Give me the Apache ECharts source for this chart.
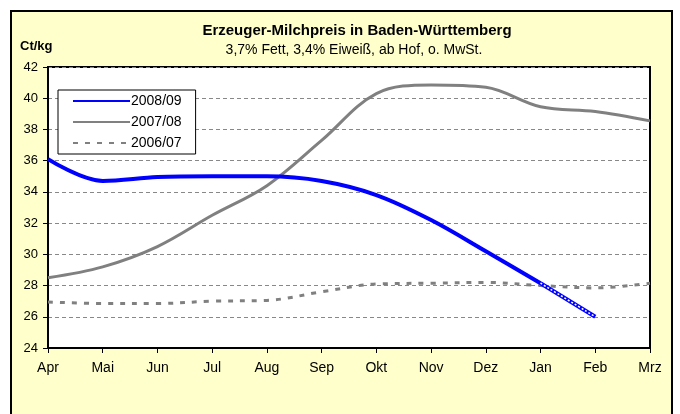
<!DOCTYPE html>
<html>
<head>
<meta charset="utf-8">
<script src="https://cdn.jsdelivr.net/npm/echarts@6/dist/echarts.min.js"></script>
<style>
html,body{margin:0;padding:0;background:#fff;}
#c{width:680px;height:414px;}
</style>
</head>
<body>
<div id="c"></div>
<script>
const months = ["Apr","Mai","Jun","Jul","Aug","Sep","Okt","Nov","Dez","Jan","Feb","Mrz"];
const yTicks = [24,26,28,30,32,34,36,38,40,42];
const s2008 = [36.1, 34.7, 34.95, 35.0, 35.0, 34.7, 33.8, 32.2, 30.2, 28.15, null, null];
const s2008proj = [null, null, null, null, null, null, null, null, null, 28.15, 26.0, null];
const s2007 = [28.5, 29.2, 30.5, 32.5, 34.4, 37.3, 40.3, 40.85, 40.7, 39.45, 39.15, 38.55];
const s2006 = [26.95, 26.85, 26.85, 27.0, 27.05, 27.6, 28.1, 28.15, 28.2, 28.0, 27.85, 28.15];
const names = ["2008/09", "2007/08", "2006/07"];

const chart = echarts.init(document.getElementById('c'), null, {renderer: 'canvas'});
const font = 'Liberation Sans, Arial, sans-serif';
chart.setOption({
  animation: false,
  backgroundColor: '#ffffff',
  textStyle: {fontFamily: font},
  graphic: [
    {type: 'rect', z: -10, shape: {x: 11, y: 11, width: 661, height: 420},
     style: {fill: '#FFFFCC', stroke: '#000', lineWidth: 2}},
    {type: 'text', x: 357, y: 31, z: 10,
     style: {text: 'Erzeuger-Milchpreis in Baden-Württemberg', font: 'bold 15px ' + font, fill: '#000', textAlign: 'center', textVerticalAlign: 'middle'}},
    {type: 'text', x: 354, y: 50, z: 10,
     style: {text: '3,7% Fett, 3,4% Eiweiß, ab Hof, o. MwSt.', font: '14px ' + font, fill: '#000', textAlign: 'center', textVerticalAlign: 'middle'}},
    {type: 'text', x: 20, y: 46, z: 10,
     style: {text: 'Ct/kg', font: 'bold 13px ' + font, fill: '#000', textVerticalAlign: 'middle'}}
  ],
  grid: {left: 48, right: 30, top: 67, bottom: 66, show: true, backgroundColor: '#fff', borderColor: '#000', borderWidth: 2},
  legend: {
    data: names,
    orient: 'vertical',
    left: 58, top: 90,
    backgroundColor: '#fff',
    borderColor: '#000', borderWidth: 1, borderRadius: 0,
    padding: [4, 14, 4, 14],
    itemWidth: 57, itemHeight: 14, itemGap: 7,
    itemStyle: {opacity: 0},
    textStyle: {fontSize: 14, color: '#000', fontFamily: font, padding: [0,0,0,-4]}
  },
  xAxis: {
    type: 'category', data: months, boundaryGap: false,
    axisLine: {lineStyle: {color: '#000', width: 2}},
    axisTick: {show: true, length: 5, lineStyle: {color: '#000', width: 1}, alignWithLabel: true},
    axisLabel: {color: '#000', fontSize: 14, margin: 13, fontFamily: font},
    splitLine: {show: false}
  },
  yAxis: {
    type: 'value', min: yTicks[0], max: yTicks[yTicks.length-1], interval: 2,
    axisLine: {show: true, lineStyle: {color: '#000', width: 2}},
    axisTick: {show: true, length: 5, lineStyle: {color: '#000', width: 1}},
    axisLabel: {color: '#000', fontSize: 13, margin: 10, fontFamily: font},
    splitLine: {show: true, lineStyle: {color: '#888', width: 1, type: [4, 3]}}
  },
  series: [
    {name: names[2], type: 'line', data: s2006, smooth: 0.35, symbol: 'none', z: 2,
     lineStyle: {color: '#808080', width: 3, type: [5, 7]}, itemStyle: {color: '#808080'}},
    {name: names[1], type: 'line', data: s2007, smooth: 0.35, symbol: 'none', z: 3,
     lineStyle: {color: '#808080', width: 3}, itemStyle: {color: '#808080'}},
    {name: names[0], type: 'line', data: s2008, smooth: 0.35, symbol: 'none', z: 4,
     lineStyle: {color: '#0000FF', width: 4}, itemStyle: {color: '#0000FF'}},
    {name: 'proj', type: 'line', data: s2008proj, smooth: 0.35, symbol: 'none', z: 4,
     lineStyle: {color: '#0000FF', width: 4}},
    {name: 'proj2', type: 'line', data: s2008proj, smooth: 0.35, symbol: 'none', z: 5,
     lineStyle: {color: '#ffffff', width: 1.5, type: [2, 2]}}
  ]
});
</script>
</body>
</html>
